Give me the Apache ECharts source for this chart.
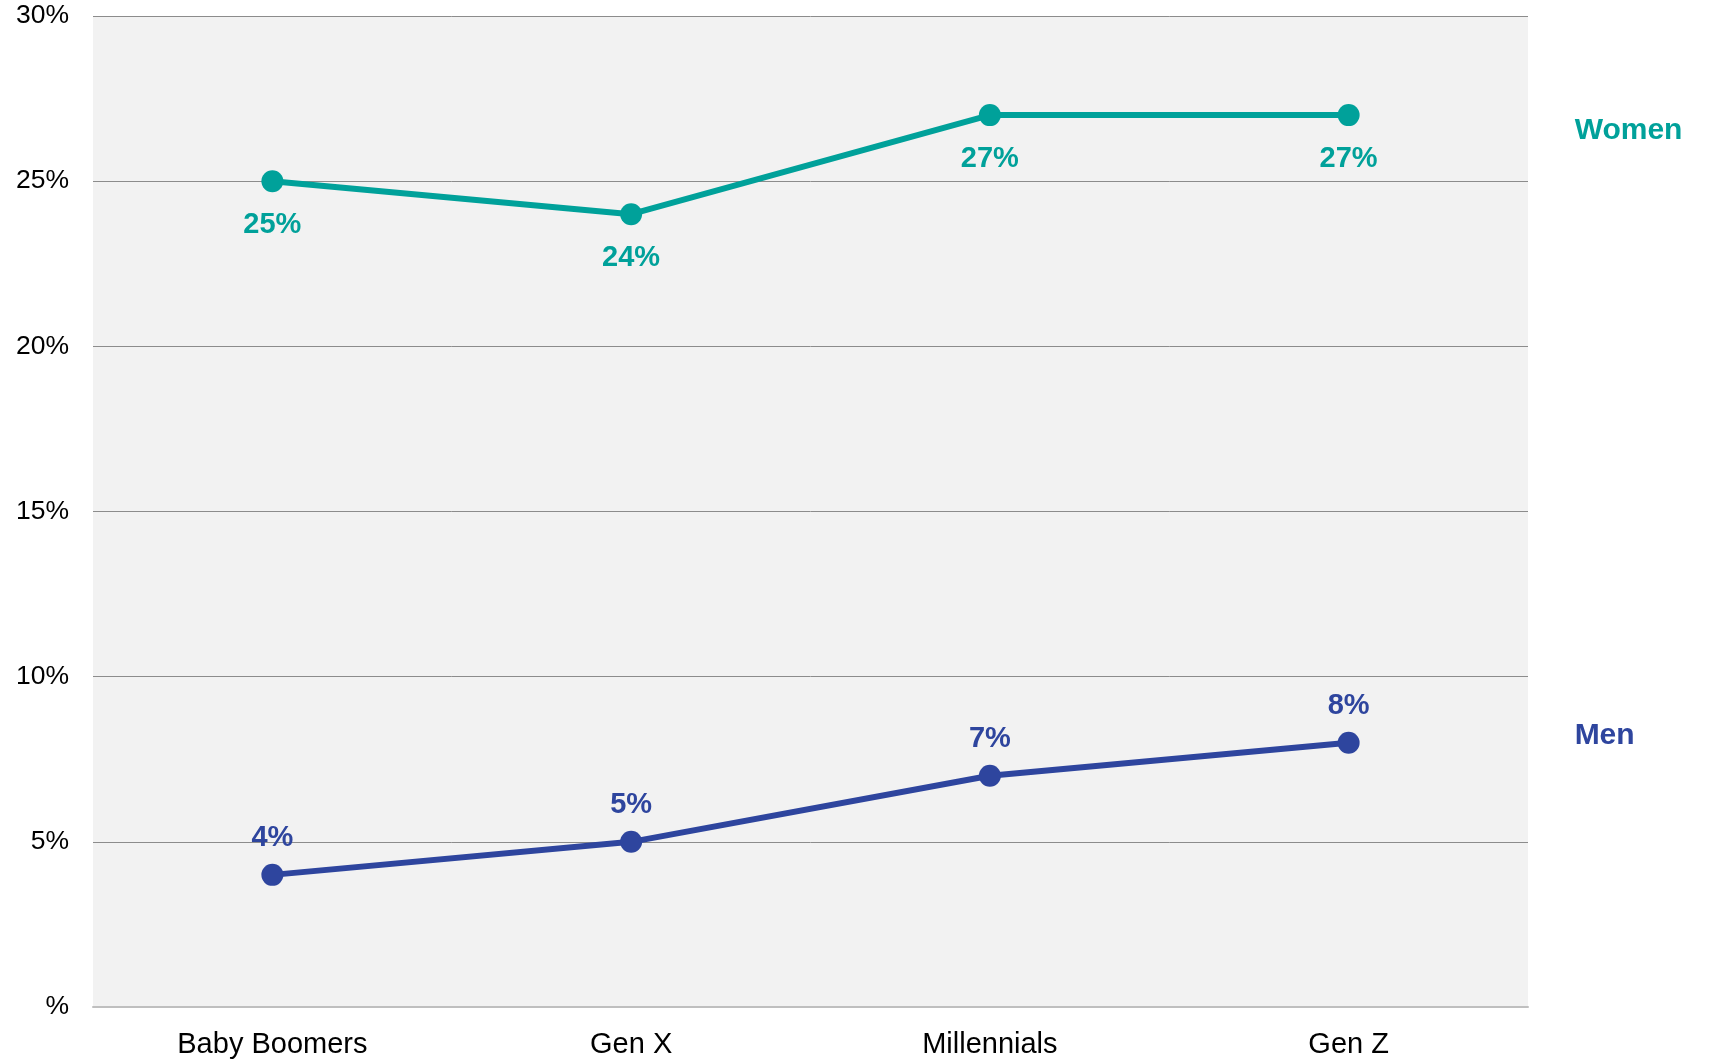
<!DOCTYPE html>
<html>
<head>
<meta charset="utf-8">
<script src="https://cdn.jsdelivr.net/npm/echarts@6/dist/echarts.min.js"></script>
<style>html,body{margin:0;padding:0;background:#fff}#c{width:1711px;height:1059px}</style>
</head>
<body>
<div id="c"></div>
<script>
const categories = ['Baby Boomers', 'Gen X', 'Millennials', 'Gen Z'];
const women = [25, 24, 27, 27];
const men = [4, 5, 7, 8];
const yTicks = { min: 0, max: 30, interval: 5 };

const FONT = '"Liberation Sans", Arial, sans-serif';
const chart = echarts.init(document.getElementById('c'));
chart.setOption({
  animation: false,
  grid: { left: 93, right: 183, top: 16, bottom: 51, show: true, backgroundColor: '#F2F2F2', borderWidth: 0 },
  xAxis: {
    type: 'category', data: categories, boundaryGap: true,
    axisLine: { show: true, lineStyle: { color: '#BFBFBF', width: 2 } },
    axisTick: { show: false },
    axisLabel: { color: '#000', fontSize: 29, fontFamily: FONT, margin: 23 }
  },
  yAxis: {
    type: 'value', min: yTicks.min, max: yTicks.max, interval: yTicks.interval,
    axisLine: { show: false }, axisTick: { show: false },
    splitLine: { show: true, lineStyle: { color: '#8C8C8C', width: 1 } },
    axisLabel: { color: '#000', fontSize: 26.5, fontFamily: FONT, margin: 24,
      formatter: v => v === 0 ? '%' : v + '%' }
  },
  series: [
    {
      name: 'Women', type: 'line', data: women,
      symbol: 'circle', symbolSize: 22,
      lineStyle: { color: '#00A19A', width: 6 },
      itemStyle: { color: '#00A19A' },
      label: { show: true, position: 'bottom', distance: 18, formatter: '{c}%', color: '#00A19A', fontSize: 29, fontWeight: 'bold', fontFamily: FONT },
      endLabel: { show: true, formatter: '{a}', color: '#00A19A', fontSize: 30, fontWeight: 'bold', fontFamily: FONT, distance: 0, offset: [226, 16] }
    },
    {
      name: 'Men', type: 'line', data: men,
      symbol: 'circle', symbolSize: 22,
      lineStyle: { color: '#2E459E', width: 6 },
      itemStyle: { color: '#2E459E' },
      label: { show: true, position: 'top', distance: 11, formatter: '{c}%', color: '#2E459E', fontSize: 29, fontWeight: 'bold', fontFamily: FONT },
      endLabel: { show: true, formatter: '{a}', color: '#2E459E', fontSize: 30, fontWeight: 'bold', fontFamily: FONT, distance: 0, offset: [226, -7] }
    }
  ]
});
</script>
</body>
</html>
